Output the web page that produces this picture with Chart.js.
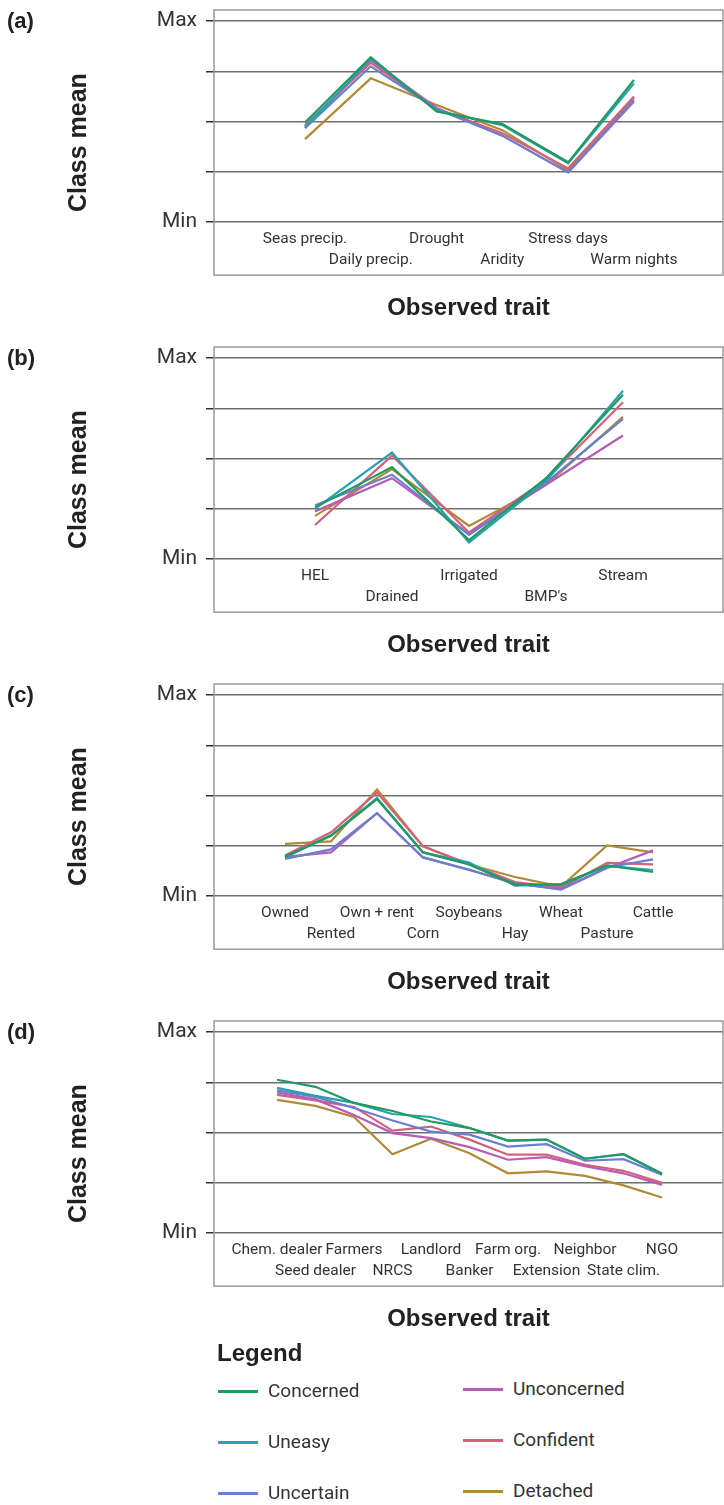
<!DOCTYPE html>
<html>
<head>
<meta charset="utf-8">
<script src="https://cdn.jsdelivr.net/npm/chart.js@4.4.1/dist/chart.umd.min.js"></script>
<style>
  html, body { margin: 0; padding: 0; background: #fff; }
  body { width: 724px; height: 1505px; position: relative; overflow: hidden; }
  .panel { position: absolute; left: 0; width: 724px; height: 337px; }
  .panel canvas { position: absolute; left: 0; top: 0; }
  .plabel { position: absolute; left: 7px; top: 10px; font: bold 22px/22px 'Liberation Sans', Arial, sans-serif; color: #222; }
  .legend-title { position: absolute; left: 217px; top: 1341px; font: bold 24px/24px 'Liberation Sans', Arial, sans-serif; color: #222; }
  .item { position: absolute; height: 24px; display: flex; align-items: center; font: 19px/24px Roboto, 'Liberation Sans', sans-serif; color: #333; white-space: nowrap; }
  .item .sw { width: 40px; height: 3px; margin-right: 10px; }
</style>
</head>
<body>
<div class="panel" style="top:0px"><canvas id="cA" width="724" height="337"></canvas><div class="plabel">(a)</div></div>
<div class="panel" style="top:337px"><canvas id="cB" width="724" height="337"></canvas><div class="plabel">(b)</div></div>
<div class="panel" style="top:674px"><canvas id="cC" width="724" height="337"></canvas><div class="plabel">(c)</div></div>
<div class="panel" style="top:1011px"><canvas id="cD" width="724" height="337"></canvas><div class="plabel">(d)</div></div>
<div class="legend-title">Legend</div>
<div id="legend"></div>
<script>
// ---------- data ----------
const seriesNames = ['Concerned', 'Uneasy', 'Uncertain', 'Unconcerned', 'Confident', 'Detached'];
const yTickValues = [0, 1, 2, 3, 4];
const yTickLabels = ['Min', '', '', '', 'Max'];

// (a) climate
const catsA = ['Seas precip.', 'Daily precip.', 'Drought', 'Aridity', 'Stress days', 'Warm nights'];
const aConcerned   = [1.98, 3.28, 2.20, 1.95, 1.19, 2.83];
const aUneasy      = [1.88, 3.25, 2.22, 1.93, 1.17, 2.76];
const aUncertain   = [1.87, 3.10, 2.25, 1.72, 0.99, 2.43];
const aUnconcerned = [1.90, 3.22, 2.27, 1.72, 0.99, 2.40];
const aConfident   = [1.93, 3.17, 2.26, 1.77, 1.07, 2.50];
const aDetached    = [1.65, 2.86, 2.33, 1.83, 1.03, 2.48];

// (b) land
const catsB = ['HEL', 'Drained', 'Irrigated', "BMP's", 'Stream'];
const bConcerned   = [1.03, 1.83, 0.38, 1.61, 3.27];
const bUneasy      = [1.00, 2.12, 0.33, 1.55, 3.35];
const bUncertain   = [1.07, 1.68, 0.48, 1.52, 2.79];
const bUnconcerned = [0.95, 1.61, 0.50, 1.48, 2.46];
const bConfident   = [0.68, 2.06, 0.53, 1.58, 3.12];
const bDetached    = [0.86, 1.79, 0.66, 1.48, 2.83];

// (c) farm
const catsC = ['Owned', 'Rented', 'Own + rent', 'Corn', 'Soybeans', 'Hay', 'Wheat', 'Pasture', 'Cattle'];
const cConcerned   = [0.79, 1.20, 1.93, 0.87, 0.63, 0.23, 0.23, 0.61, 0.48];
const cUneasy      = [0.77, 1.21, 1.95, 0.87, 0.67, 0.21, 0.24, 0.60, 0.52];
const cUncertain   = [0.74, 0.93, 1.65, 0.77, 0.53, 0.25, 0.14, 0.57, 0.73];
const cUnconcerned = [0.78, 0.87, 1.65, 0.77, 0.52, 0.26, 0.13, 0.56, 0.91];
const cConfident   = [0.81, 1.27, 2.06, 0.99, 0.64, 0.28, 0.17, 0.66, 0.63];
const cDetached    = [1.04, 1.09, 2.12, 0.99, 0.63, 0.38, 0.19, 1.01, 0.87];

// (d) trust
const catsD = ['Chem. dealer', 'Seed dealer', 'Farmers', 'NRCS', 'Landlord', 'Banker', 'Farm org.', 'Extension', 'Neighbor', 'State clim.', 'NGO'];
const dConcerned   = [3.05, 2.91, 2.59, 2.43, 2.22, 2.09, 1.84, 1.86, 1.48, 1.57, 1.18];
const dUneasy      = [2.89, 2.73, 2.59, 2.37, 2.31, 2.09, 1.84, 1.86, 1.48, 1.57, 1.18];
const dUncertain   = [2.84, 2.71, 2.49, 2.24, 2.02, 1.96, 1.72, 1.77, 1.44, 1.47, 1.16];
const dUnconcerned = [2.80, 2.66, 2.35, 1.99, 1.89, 1.71, 1.46, 1.51, 1.33, 1.19, 0.96];
const dConfident   = [2.75, 2.64, 2.51, 2.04, 2.12, 1.86, 1.56, 1.56, 1.36, 1.24, 1.00];
const dDetached    = [2.65, 2.53, 2.31, 1.57, 1.88, 1.59, 1.19, 1.23, 1.14, 0.95, 0.71];

// ---------- styles ----------
const seriesColors = ['#21995f', '#26a2b0', '#6a80cc', '#b85cb8', '#d6607a', '#b08a38'];
const tickFont = "Roboto, 'Liberation Sans', sans-serif";
const boldFont = "'Liberation Sans', Arial, sans-serif";

const boxPlugin = {
  id: 'box',
  afterDraw(chart) {
    const a = chart.chartArea, ctx = chart.ctx;
    ctx.save();
    ctx.strokeStyle = '#9a9a9a';
    ctx.lineWidth = 1.5;
    ctx.strokeRect(a.left, a.top, a.right - a.left, a.bottom - a.top);
    ctx.restore();
  }
};

function makePanel(id, cats, seriesValues, xmin, xmax) {
  const datasets = seriesValues.map((vals, s) => ({
    label: seriesNames[s],
    data: vals.map((v, i) => ({ x: i, y: v })),
    borderColor: seriesColors[s],
    backgroundColor: seriesColors[s],
    borderWidth: 2.2,
    pointRadius: 0,
    tension: 0,
    fill: false
  }));
  new Chart(document.getElementById(id), {
    type: 'line',
    data: { datasets },
    plugins: [boxPlugin],
    options: {
      responsive: false,
      animation: false,
      devicePixelRatio: 1,
      layout: { padding: { top: 10, right: 1, left: 0, bottom: 0 } },
      plugins: {
        legend: { display: false },
        tooltip: { enabled: false },
        title: {
          display: true,
          position: 'bottom',
          fullSize: false,
          text: 'Observed trait',
          color: '#222',
          font: { family: boldFont, size: 24, weight: 'bold', lineHeight: 1.2 },
          padding: { top: 19, bottom: 14 }
        }
      },
      scales: {
        x: {
          type: 'linear',
          min: xmin,
          max: xmax,
          position: { y: 0 },
          grid: { display: false, drawTicks: false },
          border: { display: false },
          afterBuildTicks: (sc) => { sc.ticks = cats.map((c, i) => ({ value: i })); },
          afterFit: (sc) => { sc.height = 0; sc.paddingLeft = 0; sc.paddingRight = 0; },
          ticks: {
            autoSkip: false,
            maxRotation: 0,
            minRotation: 0,
            padding: 6.5,
            color: '#333',
            font: { family: tickFont, size: 15.5, lineHeight: '21px' },
            callback: (v, i) => (i % 2 === 0 ? [cats[i], ''] : ['', cats[i]])
          }
        },
        y: {
          type: 'linear',
          min: -1.055,
          max: 4.219,
          position: 'left',
          afterBuildTicks: (sc) => { sc.ticks = yTickValues.map(v => ({ value: v })); },
          afterFit: (sc) => { sc.width = 214; sc.paddingTop = 0; sc.paddingBottom = 0; },
          grid: { color: '#6f6f6f', lineWidth: 1.5, drawTicks: true, tickLength: 8, tickColor: '#333', tickWidth: 1.5 },
          border: { display: false },
          ticks: {
            padding: 9,
            color: '#333',
            font: { family: tickFont, size: 21 },
            callback: (v) => yTickLabels[yTickValues.indexOf(v)]
          },
          title: {
            display: true,
            text: 'Class mean',
            color: '#222',
            font: { family: boldFont, size: 25, weight: 'bold', lineHeight: 1.2 },
            padding: { top: 64.5, bottom: 0 }
          }
        }
      }
    }
  });
}

makePanel('cA', catsA, [aConcerned, aUneasy, aUncertain, aUnconcerned, aConfident, aDetached], -1.383, 6.353);
makePanel('cB', catsB, [bConcerned, bUneasy, bUncertain, bUnconcerned, bConfident, bDetached], -1.312, 5.299);
makePanel('cC', catsC, [cConcerned, cUneasy, cUncertain, cUnconcerned, cConfident, cDetached], -1.543, 9.52);
makePanel('cD', catsD, [dConcerned, dUneasy, dUncertain, dUnconcerned, dConfident, dDetached], -1.636, 11.584);

// legend (two columns)
const legendPos = [
  { left: 218, cy: 1391 }, { left: 218, cy: 1442 }, { left: 218, cy: 1493 },
  { left: 463, cy: 1389 }, { left: 463, cy: 1440 }, { left: 463, cy: 1491 }
];
const leg = document.getElementById('legend');
seriesNames.forEach((name, s) => {
  const d = document.createElement('div');
  d.className = 'item';
  d.style.left = legendPos[s].left + 'px';
  d.style.top = (legendPos[s].cy - 12) + 'px';
  const sw = document.createElement('span');
  sw.className = 'sw';
  sw.style.background = seriesColors[s];
  const t = document.createElement('span');
  t.textContent = name;
  d.appendChild(sw);
  d.appendChild(t);
  leg.appendChild(d);
});
</script>
</body>
</html>
